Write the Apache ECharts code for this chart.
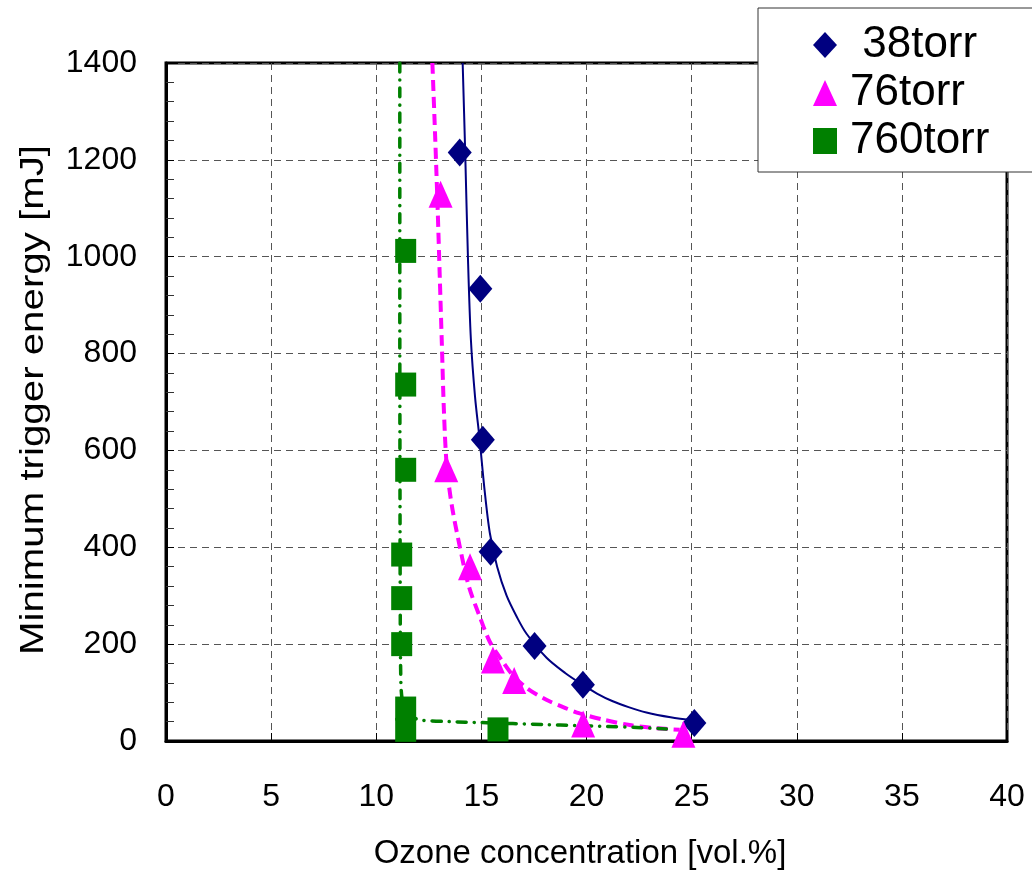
<!DOCTYPE html>
<html lang="en">
<head>
<meta charset="UTF-8">
<title>Minimum trigger energy vs ozone concentration</title>
<script src="https://cdn.jsdelivr.net/npm/echarts@6/dist/echarts.min.js"></script>
<style>
  html, body { margin: 0; padding: 0; background: #fff; }
  #main { width: 1032px; height: 880px; }
</style>
</head>
<body>
<div id="main"></div>
<script>
// series names as shown in the legend
var seriesNames = [' 38torr', '76torr', '760torr'];

// measured points [ozone vol.%, energy mJ]
var pts38 = [[13.97, 1215], [14.95, 934], [15.07, 622], [15.44, 391], [17.53, 196], [19.83, 116], [25.13, 37]];
var pts76 = [[13.06, 1129], [13.33, 562], [14.46, 360], [15.55, 167], [16.56, 125], [19.84, 35], [24.61, 14]];
var pts760 = [[11.40, 1012], [11.40, 736], [11.40, 560], [11.21, 385], [11.21, 295], [11.21, 200], [11.40, 67], [11.40, 23], [15.79, 24]];

// trend curves
var fit38 = [[14.11, 1400], [14.23, 1216], [14.36, 1000], [14.5, 830], [14.7, 710], [14.92, 622], [15.15, 519], [15.4, 430],
             [15.75, 360], [16.2, 300], [16.7, 255], [17.14, 222], [18.1, 172], [19.0, 140], [19.68, 120], [20.5, 98],
             [21.25, 82], [22.0, 70], [22.85, 59], [24.0, 49], [25.14, 42]];
var fit76 = [[12.67, 1400], [12.8, 1250], [12.92, 1100], [13.02, 960], [13.12, 820], [13.22, 680], [13.35, 570], [13.58, 490],
             [13.97, 402], [14.4, 320], [14.92, 257], [15.4, 205], [16.0, 165], [16.51, 135], [17.2, 108], [18.09, 85],
             [19.0, 68], [19.68, 57], [20.8, 44], [22.05, 33], [23.2, 27], [24.43, 23]];
var fit760 = [[11.12, 1400], [11.12, 900], [11.13, 500], [11.14, 300], [11.16, 150], [11.22, 90], [11.45, 60], [11.8, 48],
              [12.15, 43], [13.5, 40], [15, 38], [16.5, 36], [18, 34], [19.5, 32], [21, 30], [22.4, 28], [23.8, 25]];

var xTitle = 'Ozone concentration [vol.%]';
var yTitle = 'Minimum trigger energy [mJ]';

var colors = ['#000080', '#ff00ff', '#008000'];
var fontFam = "'Liberation Sans', Arial, sans-serif";

var chart = echarts.init(document.getElementById('main'));

var option = {
    animation: false,
    backgroundColor: '#fff',
    grid: {
        left: 166, right: 25, top: 63, bottom: 139,
        show: true, borderColor: '#000', borderWidth: 3
    },
    legend: {
        orient: 'vertical',
        left: 758, top: 8,
        padding: [13, 44, 7, 55],
        itemGap: 0,
        itemWidth: 24, itemHeight: 26,
        backgroundColor: '#fff',
        borderColor: '#333', borderWidth: 1,
        data: [
            { name: seriesNames[0], icon: 'diamond' },
            { name: seriesNames[1], icon: 'triangle' },
            { name: seriesNames[2], icon: 'rect' }
        ],
        textStyle: {
            fontFamily: fontFam, fontSize: 44, color: '#000',
            lineHeight: 48, padding: [0, 0, 0, 8]
        }
    },
    xAxis: {
        type: 'value', min: 0, max: 40, interval: 5,
        name: xTitle, nameLocation: 'middle', nameGap: 96,
        nameTextStyle: { fontFamily: fontFam, fontSize: 33, color: '#000', padding: [0, 13, 0, 0] },
        axisLine: { lineStyle: { color: '#000', width: 3 } },
        axisTick: { inside: true, length: 8, lineStyle: { color: '#000' } },
        axisLabel: { fontFamily: fontFam, fontSize: 32, color: '#000', margin: 40,
                     formatter: function (v) { return String(v); } },
        splitLine: { lineStyle: { color: '#555', width: 1, type: [7, 5] } }
    },
    yAxis: {
        type: 'value', min: 0, max: 1400, interval: 200,
        axisLine: { show: true, lineStyle: { color: '#000', width: 3 } },
        axisTick: { show: true, inside: true, length: 8, lineStyle: { color: '#000' } },
        minorTick: { show: true, splitNumber: 5, length: 8, lineStyle: { color: '#333' } },
        axisLabel: { fontFamily: fontFam, fontSize: 32, color: '#000', margin: 29,
                     formatter: function (v) { return String(v); } },
        splitLine: { lineStyle: { color: '#555', width: 1, type: [7, 5] } }
    },
    graphic: [{
        type: 'text',
        x: 34, y: 400,
        rotation: Math.PI / 2,
        scaleX: 1.22,
        style: {
            text: yTitle, font: "33px 'Liberation Sans', Arial, sans-serif",
            fill: '#000', align: 'center', verticalAlign: 'middle'
        }
    }],
    series: [
        {
            type: 'line', data: fit38, smooth: 0.3, showSymbol: false, silent: true,
            lineStyle: { color: colors[0], width: 2 }, z: 3
        },
        {
            type: 'line', data: fit76, smooth: 0.3, showSymbol: false, silent: true,
            lineStyle: { color: colors[1], width: 4, type: [11, 6] }, z: 3
        },
        {
            type: 'line', data: fit760, smooth: 0.3, showSymbol: false, silent: true,
            lineStyle: { color: colors[2], width: 3.5, type: [9, 8, 0.1, 8], cap: 'round' }, z: 3
        },
        {
            name: seriesNames[0], type: 'scatter', data: pts38,
            symbol: 'diamond', symbolSize: [24, 28],
            itemStyle: { color: colors[0], opacity: 1 }, z: 5
        },
        {
            name: seriesNames[1], type: 'scatter', data: pts76,
            symbol: 'triangle', symbolSize: [24, 27],
            itemStyle: { color: colors[1], opacity: 1 }, z: 5
        },
        {
            name: seriesNames[2], type: 'scatter', data: pts760,
            symbol: 'rect', symbolSize: [21, 24],
            itemStyle: { color: colors[2], opacity: 1 }, z: 5
        }
    ]
};

chart.setOption(option);
</script>
</body>
</html>
